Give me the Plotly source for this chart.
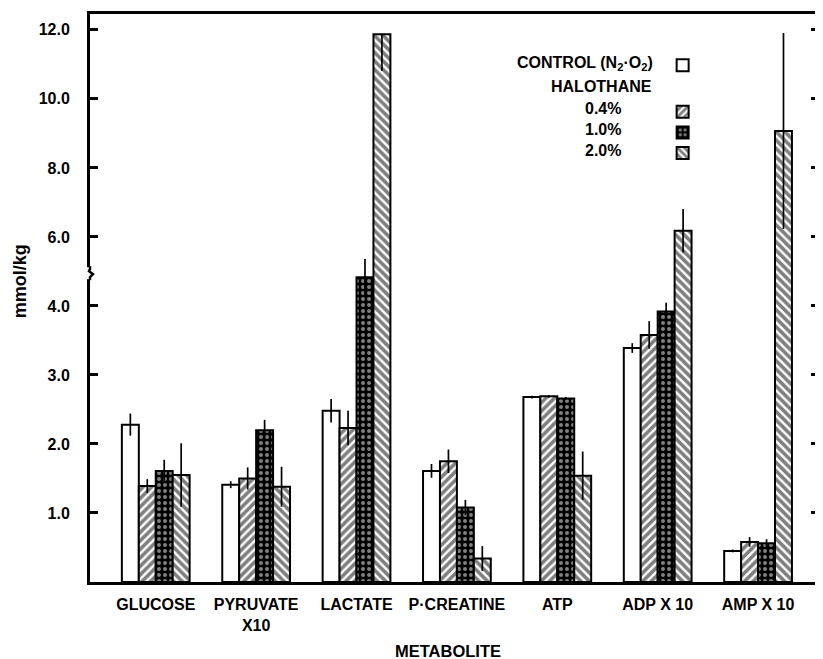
import plotly.graph_objects as go

# ---------------- data (values in mmol/kg) ----------------
categories = ["GLUCOSE", "PYRUVATE<br>X10", "LACTATE", "P·CREATINE", "ATP", "ADP X 10", "AMP X 10"]

control = [2.28, 1.41, 2.48, 1.61, 2.68, 3.39, 0.45]
control_err = [0.16, 0.05, 0.17, 0.10, 0.02, 0.07, 0.02]

halo_04 = [1.39, 1.50, 2.23, 1.75, 2.69, 3.58, 0.58]
halo_04_err = [0.10, 0.16, 0.25, 0.17, 0.02, 0.20, 0.07]

halo_10 = [1.61, 2.20, 4.83, 1.08, 2.66, 3.92, 0.56]
halo_10_err = [0.16, 0.15, 0.53, 0.11, 0.02, 0.17, 0.06]

halo_20 = [1.55, 1.38, 11.87, 0.34, 1.54, 6.18, 9.07]
halo_20_err_up = [0.46, 0.29, 0.00, 0.18, 0.35, 0.63, 2.84]
halo_20_err_down = [0.46, 0.29, 1.06, 0.18, 0.35, 0.63, 2.84]

y_tick_values = [1.0, 2.0, 3.0, 4.0, 6.0, 8.0, 10.0, 12.0]
y_tick_labels = ["1.0", "2.0", "3.0", "4.0", "6.0", "8.0", "10.0", "12.0"]

BREAK = 4.0  # axis break: above 4.0 the scale is compressed by 2


def tr(v):
    return v if v <= BREAK else BREAK + (v - BREAK) / 2.0


def tr_list(vals):
    return [tr(v) for v in vals]


def err_up(vals, errs):
    return [tr(v + e) - tr(v) for v, e in zip(vals, errs)]


def err_down(vals, errs):
    return [tr(v) - tr(v - e) for v, e in zip(vals, errs)]


FONT = "Liberation Sans, Arial, sans-serif"
LINE_W = 2


def bar(name, vals, eup, edown, pattern, color, group):
    return go.Bar(
        x=categories,
        y=tr_list(vals),
        name=name,
        legendgroup=group,
        marker=dict(color=color, line=dict(color="black", width=LINE_W), pattern=pattern),
        error_y=dict(type="data", symmetric=False, array=eup, arrayminus=edown,
                     color="black", thickness=1.7, width=0),
        customdata=vals,
        hovertemplate="%{x}: %{customdata}<extra>" + name + "</extra>",
    )


fig = go.Figure()
fig.add_trace(bar("", control, err_up(control, control_err), err_down(control, control_err),
                  dict(shape=""), "white", "a"))
fig.add_trace(bar(" ", halo_04, err_up(halo_04, halo_04_err), err_down(halo_04, halo_04_err),
                  dict(shape="/", fgcolor="black", bgcolor="white", size=6, solidity=0.6), "white", "b"))
fig.add_trace(bar("  ", halo_10, err_up(halo_10, halo_10_err), err_down(halo_10, halo_10_err),
                  dict(shape=".", fgcolor="white", bgcolor="black", size=6, solidity=0.35), "black", "b"))
fig.add_trace(bar("   ", halo_20, err_up(halo_20, halo_20_err_up), err_down(halo_20, halo_20_err_down),
                  dict(shape="\\", fgcolor="black", bgcolor="white", size=6, solidity=0.6), "white", "b"))

# page body has an 8px margin: figure is placed at (8, 8) in the window
OFF = 8
W, H = 823 - OFF, 659 - OFF
L, R, T, B = 90, 822, 14, 582          # plot-area edges in window pixels


def px_x(p):
    return (p - L) / (R - L)


def px_y(p):
    return (B - p) / (B - T)


def fnt(size):
    return dict(family=FONT, size=size, color="black", weight="bold")


annotations = [
    dict(text="CONTROL (N<sub>2</sub>·O<sub>2</sub>)", x=px_x(657), y=px_y(63), xanchor="right", font=fnt(16)),
    dict(text="HALOTHANE", x=px_x(604), y=px_y(86), xanchor="center", font=fnt(16)),
    dict(text="0.4%", x=px_x(605), y=px_y(108), xanchor="center", font=fnt(16)),
    dict(text="1.0%", x=px_x(605), y=px_y(129), xanchor="center", font=fnt(16)),
    dict(text="2.0%", x=px_x(605), y=px_y(150), xanchor="center", font=fnt(16)),
    dict(text="mmol/kg", x=px_x(20), y=px_y(281), textangle=-90, xanchor="center", font=fnt(18)),
    dict(text="METABOLITE", x=px_x(449), y=px_y(651), xanchor="center", font=fnt(16.5)),
]
for a in annotations:
    a.update(xref="paper", yref="paper", showarrow=False, yanchor="middle")

y_break = tr(4.95)
shapes = []
for xa in (0, 1):
    shapes.append(dict(type="rect", xref="paper", yref="y", xsizemode="pixel", ysizemode="pixel",
                       xanchor=xa, yanchor=y_break, x0=-3, x1=3, y0=-6, y1=6,
                       fillcolor="white", line=dict(width=0), layer="above"))
    shapes.append(dict(type="path", xref="paper", yref="y", xsizemode="pixel", ysizemode="pixel",
                       xanchor=xa, yanchor=y_break,
                       path="M0,-7 L0,-4 L3,-1 L-1,2 L0,4 L0,7",
                       line=dict(color="black", width=2.5), layer="above"))

fig.update_layout(
    width=W, height=H,
    margin=dict(l=L - OFF, r=W - (R - OFF), t=T - OFF, b=H - (B - OFF)),
    paper_bgcolor="white", plot_bgcolor="white",
    barmode="group", bargap=0.325, bargroupgap=0,
    font=fnt(15),
    showlegend=True,
    legend=dict(x=px_x(665), y=px_y(50), xanchor="left", yanchor="top",
                bgcolor="rgba(0,0,0,0)", font=dict(family=FONT, size=13.5),
                traceorder="grouped", tracegroupgap=26, itemwidth=30),
    annotations=annotations,
    shapes=shapes,
    xaxis=dict(range=[-0.655, 6.607], showline=True, linewidth=3, linecolor="black",
               mirror=True, ticks="", showgrid=False, zeroline=False,
               tickfont=fnt(16), ticklabelstandoff=6),
    yaxis=dict(range=[0, 8.23], showline=True, linewidth=3, linecolor="black",
               mirror="allticks", ticks="inside", ticklen=8, tickwidth=2.5, tickcolor="black",
               tickvals=tr_list(y_tick_values), ticktext=y_tick_labels,
               showgrid=False, zeroline=False,
               tickfont=fnt(16), ticklabelstandoff=14),
)

fig.write_html("out.html")
